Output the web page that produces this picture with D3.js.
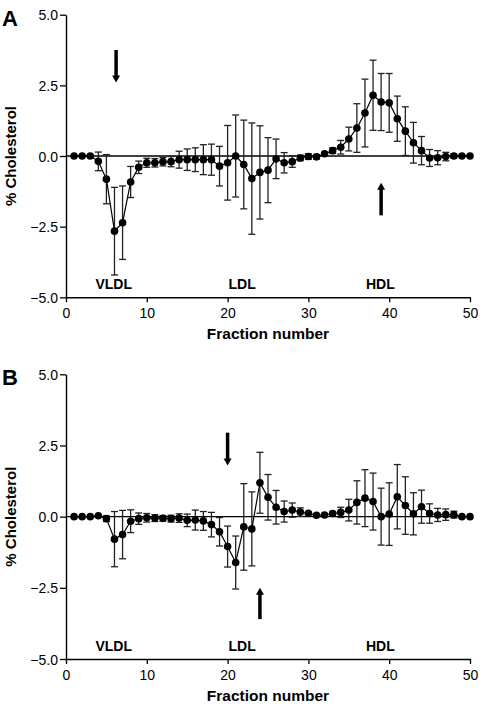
<!DOCTYPE html>
<html><head><meta charset="utf-8">
<script src="https://cdn.jsdelivr.net/npm/d3@7"></script>
<style>body{margin:0;background:#fff}svg{display:block;font-family:"Liberation Sans",Arial,sans-serif}</style>
</head><body>
<script>
const fractions = d3.range(1, 51);
const meanA = [0,0,0,-0.19,-0.82,-2.66,-2.36,-0.92,-0.40,-0.24,
  -0.24,-0.20,-0.20,-0.13,-0.13,-0.13,-0.13,-0.13,-0.36,-0.24,
  0.0,-0.30,-0.80,-0.58,-0.50,-0.10,-0.24,-0.20,-0.07,-0.02,
  -0.03,0.08,0.19,0.31,0.60,0.99,1.52,2.15,1.91,1.88,
  1.32,0.88,0.47,0.19,-0.07,-0.06,-0.02,0,0,0];
const errA = [0,0,0,0.33,0.87,1.55,1.30,0.55,0.22,0.16,
  0.15,0.15,0.18,0.30,0.38,0.42,0.53,0.55,0.70,1.32,
  1.45,1.57,1.97,1.65,1.15,0.70,0.36,0.20,0.10,0.10,
  0.08,0.05,0.10,0.24,0.42,0.86,1.20,1.24,1.01,1.04,
  0.80,0.86,0.72,0.50,0.30,0.25,0.15,0.08,0,0];
const meanB = [0,0,0,0.03,-0.07,-0.79,-0.63,-0.16,-0.07,-0.04,
  -0.05,-0.06,-0.07,-0.05,-0.13,-0.12,-0.15,-0.28,-0.53,-1.05,
  -1.61,-0.36,-0.43,1.19,0.68,0.33,0.18,0.23,0.16,0.12,
  0.05,0.06,0.11,0.15,0.23,0.50,0.65,0.53,0.0,0.09,
  0.70,0.39,0.10,0.35,0.11,0.06,0.07,0.07,0,0];
const errB = [0,0,0,0,0.10,0.97,0.85,0.40,0.20,0.15,
  0.12,0.10,0.12,0.15,0.22,0.35,0.33,0.43,0.50,0.72,
  0.93,1.52,1.30,1.07,0.80,0.59,0.37,0.25,0.15,0.05,
  0.04,0.04,0.07,0.18,0.38,0.76,1.00,1.00,1.00,1.10,
  1.13,1.01,0.74,0.58,0.34,0.23,0.20,0.12,0,0];
const yTicks = [-5, -2.5, 0, 2.5, 5];
const xTicks = [0, 10, 20, 30, 40, 50];
const regionLabels = ["VLDL", "LDL", "HDL"];
const regionPos = [5.9, 21.8, 38.9];

const W = 482, H = 708;
const svg = d3.select("body").append("svg").attr("width", W).attr("height", H);

const x = d3.scaleLinear().domain([0, 50]).range([66, 470]);

function panel(letter, mean, err, top, bottom, downArrow, upArrow) {
  const y = d3.scaleLinear().domain([-5, 5]).range([bottom, top]);
  const g = svg.append("g");
  const ya = g.append("g").attr("transform", `translate(${x(0)},0)`)
    .call(d3.axisLeft(y).tickValues(yTicks).tickFormat(d3.format(".1f")).tickSize(6).tickSizeOuter(0));
  const xa = g.append("g").attr("transform", `translate(0,${y(-5)})`)
    .call(d3.axisBottom(x).tickValues(xTicks).tickFormat(d3.format("d")).tickSize(5).tickSizeOuter(0));
  [ya, xa].forEach(a => {
    a.select(".domain").attr("stroke", "#000").attr("stroke-width", 1.4);
    a.selectAll(".tick line").attr("stroke", "#000").attr("stroke-width", 1.3);
    a.selectAll("text").attr("font-size", 14).attr("fill", "#000").attr("font-family", "Liberation Sans, Arial, sans-serif");
  });
  ya.selectAll("text").attr("x", -8).attr("dy", "0.36em");
  xa.selectAll("text").attr("dy", "0.9em");
  g.append("line").attr("x1", x(0)).attr("x2", x(50)).attr("y1", y(0)).attr("y2", y(0))
    .attr("stroke", "#000").attr("stroke-width", 1.4);
  const data = fractions.map((f, i) => ({f, m: mean[i], e: err[i]}));
  const eb = g.append("g").attr("stroke", "#222").attr("stroke-width", 1.3);
  data.filter(d => d.e > 0).forEach(d => {
    eb.append("line").attr("x1", x(d.f)).attr("x2", x(d.f)).attr("y1", y(d.m + d.e)).attr("y2", y(d.m - d.e));
    [d.m + d.e, d.m - d.e].forEach(v => eb.append("line")
      .attr("x1", x(d.f) - 3.5).attr("x2", x(d.f) + 3.5).attr("y1", y(v)).attr("y2", y(v)));
  });
  g.append("path").datum(data)
    .attr("d", d3.line().x(d => x(d.f)).y(d => y(d.m)))
    .attr("fill", "none").attr("stroke", "#000").attr("stroke-width", 1.2);
  g.selectAll("circle.pt").data(data).enter().append("circle")
    .attr("cx", d => x(d.f)).attr("cy", d => y(d.m)).attr("r", 3.8).attr("fill", "#000");
  regionLabels.forEach((t, i) => g.append("text").attr("x", x(regionPos[i])).attr("y", y(-5) - 8)
    .attr("text-anchor", "middle").attr("font-weight", "bold").attr("font-size", 14).text(t));
  g.append("text").attr("x", (x(0) + x(50)) / 2).attr("y", y(-5) + 42)
    .attr("text-anchor", "middle").attr("font-weight", "bold").attr("font-size", 15.5).text("Fraction number");
  g.append("text").attr("transform", `translate(16,${y(0)}) rotate(-90)`)
    .attr("text-anchor", "middle").attr("font-weight", "bold").attr("font-size", 15).text("% Cholesterol");
  g.append("text").attr("x", 2).attr("y", top + 11).attr("font-weight", "bold").attr("font-size", 22).text(letter);
  function arrow(fx, y1, y2) {
    const dir = Math.sign(y2 - y1);
    const px = x(fx);
    g.append("line").attr("x1", px).attr("x2", px).attr("y1", y1).attr("y2", y2 - dir * 6)
      .attr("stroke", "#000").attr("stroke-width", 3.5);
    g.append("path").attr("d", `M${px - 4},${y2 - dir * 7}L${px + 4},${y2 - dir * 7}L${px},${y2}Z`).attr("fill", "#000");
  }
  arrow(downArrow[0], y(downArrow[1]), y(downArrow[2]));
  arrow(upArrow[0], y(upArrow[1]), y(upArrow[2]));
}

panel("A", meanA, errA, 14.7, 297.3, [6.2, 3.75, 2.6], [39, -2.1, -0.95]);
panel("B", meanB, errB, 374.3, 659, [20, 2.95, 1.8], [24, -3.6, -2.5]);
</script>
</body></html>
